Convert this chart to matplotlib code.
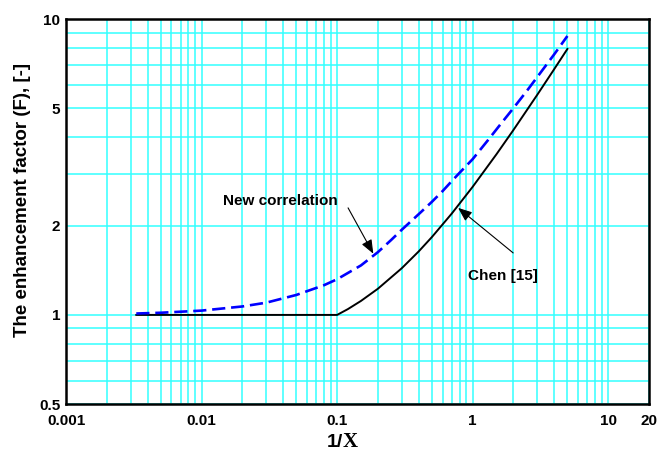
import matplotlib
matplotlib.use("Agg")
import matplotlib.pyplot as plt
from matplotlib.ticker import FixedLocator, NullFormatter, LogLocator

plt.rcParams['font.family'] = ['Liberation Sans', 'DejaVu Sans']

# Chen [15] correlation
chen_x = [0.0033, 0.01, 0.05, 0.1, 0.12, 0.15, 0.2, 0.3, 0.4, 0.5, 0.7,
          1.0, 1.5, 2.0, 3.0, 4.0, 5.0]
chen_f = [1.0, 1.0, 1.0, 1.0, 1.046, 1.115, 1.226, 1.438, 1.639, 1.832, 2.198,
          2.709, 3.493, 4.217, 5.549, 6.773, 7.92]

# New correlation
new_x = [0.0033, 0.005, 0.01, 0.02, 0.03, 0.05, 0.08, 0.1, 0.15, 0.2, 0.25,
         0.3, 0.4, 0.5, 0.6, 0.7, 0.8, 1.0, 1.3, 1.6, 2.0, 2.5, 3.0, 4.0, 5.0]
new_f = [1.011, 1.017, 1.034, 1.068, 1.10, 1.168, 1.26, 1.32, 1.47, 1.63, 1.79,
         1.94, 2.19, 2.41, 2.62, 2.83, 3.02, 3.36, 3.9, 4.4, 5.0, 5.7, 6.37, 7.6, 8.76]

x_ticks = [0.001, 0.01, 0.1, 1, 10, 20]
x_tick_labels = ['0.001', '0.01', '0.1', '1', '10', '20']
y_ticks = [0.5, 1, 2, 5, 10]
y_tick_labels = ['0.5', '1', '2', '5', '10']

fig = plt.figure(figsize=(6.72, 4.53), dpi=100)
ax = fig.add_axes([66 / 672, 1 - 404 / 453, (649 - 66) / 672, (404 - 19) / 453])

ax.set_xscale('log')
ax.set_yscale('log')
ax.set_xlim(0.001, 20)
ax.set_ylim(0.5, 10)

grid_color = '#33ffff'
ax.xaxis.set_major_locator(FixedLocator(x_ticks))
ax.xaxis.set_minor_locator(LogLocator(base=10, subs=range(2, 10), numticks=20))
ax.yaxis.set_major_locator(FixedLocator(y_ticks))
ax.yaxis.set_minor_locator(LogLocator(base=10, subs=range(2, 10), numticks=20))
ax.xaxis.set_minor_formatter(NullFormatter())
ax.yaxis.set_minor_formatter(NullFormatter())
ax.set_xticklabels(x_tick_labels)
ax.set_yticklabels(y_tick_labels)
ax.grid(True, which='both', color=grid_color, linewidth=1.1)
ax.set_axisbelow(True)
ax.tick_params(which='both', length=0, labelsize=11)
ax.tick_params(axis='x', pad=7)
ax.tick_params(axis='y', pad=4)
for lab in ax.get_xticklabels() + ax.get_yticklabels():
    lab.set_fontweight('bold')

for sp in ax.spines.values():
    sp.set_linewidth(1.8)
    sp.set_color('black')
    sp.set_zorder(5)

ax.plot(chen_x, chen_f, color='black', linewidth=1.4, zorder=3)
ax.plot(new_x, new_f, color='#0000ff', linewidth=1.9, dashes=(5, 2.2), zorder=4)

fig.text(22.5 / 672, 1 - 200 / 453, 'The enhancement factor (F), [-]', fontsize=13.5,
         fontweight='bold', rotation=90, ha='center', va='center')

# x-axis label: "1/" in sans, the symbol in serif
fig.text(343 / 672, 1 - 447 / 453, '1/', fontsize=14, fontweight='bold',
         ha='right', va='baseline')
fig.text(343 / 672, 1 - 447 / 453, 'X', fontsize=15, fontweight='bold',
         ha='left', va='baseline', family='Liberation Serif')

arrow = dict(arrowstyle='-|>,head_length=0.7,head_width=0.28', color='black',
             linewidth=0.8, shrinkA=0, shrinkB=0, mutation_scale=12)

ax.text(0.038, 2.43, 'New correlation', fontsize=11, fontweight='bold',
        ha='center', va='center')
ax.annotate('', xy=(0.185, 1.61), xytext=(0.1205, 2.30), arrowprops=arrow)

ax.text(1.68, 1.355, 'Chen [15]', fontsize=11, fontweight='bold',
        ha='center', va='center')
ax.annotate('', xy=(0.781, 2.30), xytext=(1.99, 1.62), arrowprops=arrow)

fig.savefig('out.png', dpi=100)
